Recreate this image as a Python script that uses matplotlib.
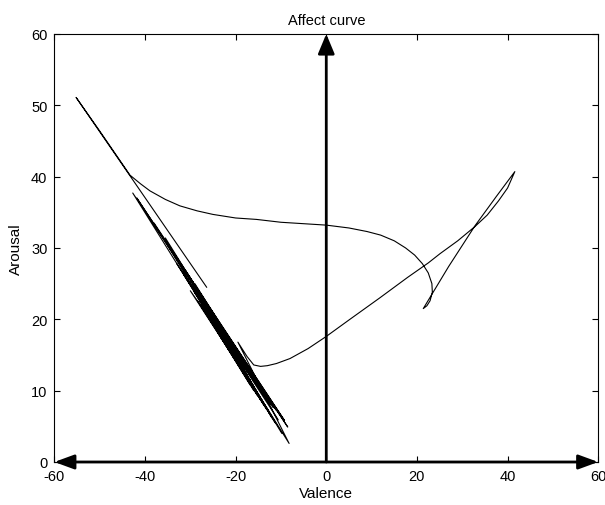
import numpy as np
import matplotlib
matplotlib.use("Agg")
import matplotlib.pyplot as plt

plt.rcParams["font.family"] = ["Liberation Sans", "DejaVu Sans"]
plt.rcParams["axes.unicode_minus"] = False

# trajectory (valence, arousal)
start_x = [-26.4, -55.2, -50.0, -46.0, -43.3, -41.0, -38.9, -35.5, -32.3, -28.5,
           -25.0, -20.0, -15.4, -10.0, -5.0, 0.0, 5.0, 9.0, 12.0, 15.0,
           17.5, 19.5, 21.2, 22.5, 23.3, 23.4, 22.9, 22.2, 21.4]
start_y = [24.5, 51.1, 46.4, 42.7, 40.2, 39.0, 38.0, 36.8, 35.9, 35.2,
           34.7, 34.2, 34.0, 33.6, 33.4, 33.2, 32.8, 32.3, 31.8, 31.0,
           30.0, 29.0, 27.8, 26.5, 25.0, 23.8, 22.6, 21.9, 21.5]

loop_x = [27.0, 32.8, 37.5, 41.6, 40.0, 38.0, 35.5, 32.8, 29.0, 25.1,
          22.5, 18.0, 11.8, 5.0, 0.0, -4.0, -8.0, -11.0, -13.0, -14.5,
          -16.0, -17.5, -19.5]
loop_y = [27.4, 33.1, 37.2, 40.7, 38.4, 36.6, 34.6, 33.0, 31.0, 29.2,
          27.9, 25.9, 23.0, 19.9, 17.6, 15.9, 14.5, 13.8, 13.5, 13.4,
          13.6, 14.8, 16.8]

band_x = [-8.2, -42.7, -8.5, -41.8, -9.2, -38.0, -9.8, -35.5, -10.6, -33.0,
          -11.0, -32.2, -11.3, -31.5, -11.7, -31.0, -12.0, -30.2, -12.3, -30.0,
          -12.6, -29.3, -12.9, -29.0, -13.2, -28.4, -13.5, -28.0, -13.8, -27.5,
          -14.1, -27.1, -14.5, -26.6, -14.9, -26.2, -15.2, -25.6, -15.6, -25.2,
          -16.0, -24.8, -16.4, -24.4, -16.8, -24.0, -17.2, -23.6, -17.6, -23.2,
          -18.0, -22.8, -18.4, -22.4, -18.8, -22.0, -19.2, -21.6, -20.0, -21.0]
band_y = [2.6, 37.7, 4.9, 37.0, 5.8, 33.5, 4.0, 31.4, 5.9, 27.8,
          7.2, 27.9, 5.5, 26.3, 7.6, 26.8, 6.2, 26.0, 8.1, 24.0,
          7.0, 24.0, 8.7, 25.0, 7.4, 22.6, 9.3, 23.8, 8.0, 22.0,
          9.8, 22.9, 8.7, 21.0, 10.6, 22.0, 9.3, 20.0, 11.2, 21.0,
          10.0, 19.2, 11.9, 20.0, 10.8, 18.2, 12.6, 19.0, 11.8, 17.4,
          13.2, 18.2, 12.6, 16.8, 14.0, 17.2, 13.6, 16.2, 15.0, 16.0]

valence = start_x + loop_x + band_x
arousal = start_y + loop_y + band_y

fig = plt.figure(figsize=(6.05, 5.06), dpi=100)
ax = fig.add_axes([0.0898, 0.085, 0.899, 0.846])

ax.plot(valence, arousal, color="k", lw=0.8)

# axis arrows
ax.annotate("", xy=(60, 0), xytext=(-60, 0),
            arrowprops=dict(arrowstyle="<|-|>,head_length=0.6,head_width=0.22",
                            mutation_scale=20, lw=2, color="k",
                            shrinkA=0, shrinkB=0))
ax.annotate("", xy=(0, 60), xytext=(0, 0),
            arrowprops=dict(arrowstyle="-|>,head_length=0.6,head_width=0.25",
                            mutation_scale=20, lw=2, color="k",
                            shrinkA=0, shrinkB=0))

ax.set_xlim(-60, 60)
ax.set_ylim(0, 60)
ax.set_xticks(np.arange(-60, 61, 20))
ax.set_yticks(np.arange(0, 61, 10))
ax.tick_params(direction="in", top=True, right=True, length=4, width=0.8,
               labelsize=10.5, pad=5)
for s in ax.spines.values():
    s.set_linewidth(0.8)

ax.set_title("Affect curve", fontsize=10.5, pad=7)
ax.set_xlabel("Valence", fontsize=11, labelpad=2)
ax.set_ylabel("Arousal", fontsize=11, labelpad=6)

fig.savefig("out.png", dpi=100)
